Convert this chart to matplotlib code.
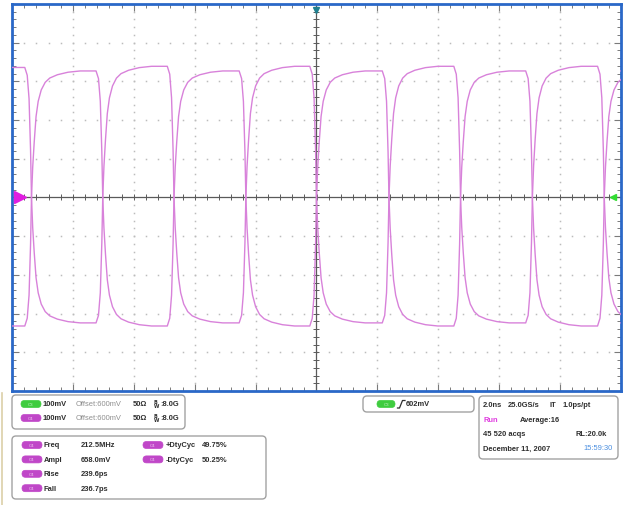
import numpy as np
import matplotlib
matplotlib.use('Agg')
import matplotlib.pyplot as plt
from matplotlib.patches import FancyBboxPatch

# --- values ---
crossing_ns = [-9.36, -7.02, -4.68, -2.32, 0.00, 2.38, 4.73, 7.09, 9.45]
# settled levels (mV) in the 10 stretches before/between/after the crossings
high_mv = [936, 927, 939, 927, 939, 927, 939, 927, 939, 927]
low_mv = [268, 276, 268, 276, 268, 276, 268, 276, 268, 276]
cross_mv = 600
# shape of one edge: time from crossing (ns) and fraction of the swing
edge_dt_ns = [-0.22, -0.14, -0.08, -0.03, 0.0, 0.04, 0.09, 0.15, 0.22, 0.32, 0.45, 0.60, 0.85, 1.20, 1.60]
edge_frac = [0.0, 0.03, 0.12, 0.32, 0.5, 0.62, 0.72, 0.82, 0.88, 0.925, 0.955, 0.972, 0.985, 0.995, 1.0]

chan_rows = [("C3", "100mV", "Offset:600mV", "50\u03a9", ":8.0G"),
             ("C4", "100mV", "Offset:600mV", "50\u03a9", ":8.0G")]
meas_left = [("Freq", "212.5MHz"), ("Ampl", "658.0mV"), ("Rise", "239.6ps"), ("Fall", "236.7ps")]
meas_right = [("+DtyCyc", "49.75%"), ("-DtyCyc", "50.25%")]
trig_level = "602mV"

TRACE = '#d882da'
GREEN = '#3fcc3f'
MAGENTA = '#c047c8'
TXT = '#2e2e2e'


def level(seg, start_high):
    high = (seg % 2 == 0) == start_high
    return high_mv[seg] if high else low_mv[seg]


def build_trace(start_high):
    ts = [-10.0]
    vs = [level(0, start_high)]
    for k, tc in enumerate(crossing_ns):
        old = level(k, start_high)
        new = level(k + 1, start_high)
        for dt, f in zip(edge_dt_ns, edge_frac):
            ts.append(tc + dt)
            if f <= 0.5:
                vs.append(old + f / 0.5 * (cross_mv - old))
            else:
                vs.append(cross_mv + (f - 0.5) / 0.5 * (new - cross_mv))
    ts.append(10.0)
    vs.append(level(len(crossing_ns), start_high))
    return ts, vs


fig = plt.figure(figsize=(6.27, 5.06), dpi=100)
fig.patch.set_facecolor('white')

ax = fig.add_axes([12 / 627, 1 - 392 / 506, 609 / 627, 387 / 506])
ax.set_xlim(-10, 10)
ax.set_ylim(100, 1100)

# dotted graticule
for gx in np.arange(-8, 9, 2):
    if gx != 0:
        ys = np.arange(100, 1101, 20)
        ax.plot(np.full(len(ys), gx), ys, ls='', marker='s', ms=1.1, mew=0,
                color='#bcbcbc', zorder=1)
for gy in np.arange(200, 1001, 100):
    if gy != 600:
        xs = np.arange(-10, 10.01, 0.4)
        ax.plot(xs, np.full(len(xs), gy), ls='', marker='s', ms=1.1, mew=0,
                color='#bcbcbc', zorder=1)

# centre cross with small ticks
ax.axhline(600, color='#5a5a5a', lw=0.9, zorder=2)
ax.axvline(0, color='#5a5a5a', lw=0.9, zorder=2)
xs = np.arange(-10, 10.01, 0.4)
ax.plot(xs, np.full(len(xs), 600), ls='', marker='|', ms=4, mew=0.7, color='#5a5a5a', zorder=2)
ys = np.arange(100, 1101, 20)
ax.plot(np.zeros(len(ys)), ys, ls='', marker='_', ms=4, mew=0.7, color='#5a5a5a', zorder=2)

# the two traces
for start_high in (True, False):
    t, v = build_trace(start_high)
    ax.plot(t, v, color=TRACE, lw=1.0, zorder=3, solid_joinstyle='round')

# edge markers
ax.plot([-9.75], [600], marker='>', ms=8, color='#e01ee0', clip_on=False, zorder=5)
ax.plot([0], [1085], marker='v', ms=5, color='#1f7f8f', clip_on=False, zorder=5)
ax.plot([9.75], [600], marker='<', ms=5, color='#33dd33', clip_on=False, zorder=5)

ax.set_xticks(np.arange(-10, 10.01, 2))
ax.set_yticks(np.arange(100, 1101, 100))
ax.set_xticks(np.arange(-10, 10.01, 0.4), minor=True)
ax.set_yticks(np.arange(100, 1101, 20), minor=True)
ax.tick_params(which='both', direction='in', top=True, right=True,
               labelbottom=False, labelleft=False, color='#7a7a7a')
ax.tick_params(which='major', length=5, width=0.8)
ax.tick_params(which='minor', length=3, width=0.7)
for s in ax.spines.values():
    s.set_color('#2a68c8')
    s.set_linewidth(2.0)

# --- readout panels in pixel coordinates ---
ov = fig.add_axes([0, 0, 1, 1], zorder=-1)
ov.set_xlim(0, 627)
ov.set_ylim(506, 0)
ov.axis('off')

ov.plot([1.5, 1.5], [394, 506], color='#dccfa8', lw=1.2)


def box(x0, y0, x1, y1):
    ov.add_patch(FancyBboxPatch((x0, y0), x1 - x0, y1 - y0,
                                boxstyle='round,pad=0,rounding_size=4',
                                fc='white', ec='#a2a2a2', lw=1.0))


def pill(x, y, name, color, w=20):
    ov.add_patch(FancyBboxPatch((x, y - 3.5), w, 7,
                                boxstyle='round,pad=0,rounding_size=3.5',
                                fc=color, ec=color, lw=0.5))
    ov.text(x + w / 2, y, name, fontsize=3.2, color='white', alpha=0.7,
            ha='center', va='center', family='Liberation Sans')


def label(x, y, s, color=TXT, ha='left', weight='bold'):
    ov.text(x, y, s, fontsize=5.4, color=color, ha=ha, va='center',
            family='Liberation Sans', weight=weight)


box(12, 396, 185, 430)
for i, (ch, volts, off, imp, bw) in enumerate(chan_rows):
    y = 405 + 14 * i
    pill(21, y, ch, GREEN if ch == 'C3' else MAGENTA)
    label(43, y, volts)
    label(76, y, off, color='#8e8e8e', weight='normal')
    label(133, y, imp)
    ov.text(153, y, r'$^{\mathbf{B}}_{\mathbf{W}}$', fontsize=5.0, color=TXT,
            ha='left', va='center')
    label(160, y, bw)

box(12, 437, 266, 500)
for i, (name, val) in enumerate(meas_left):
    y = 446 + 14.4 * i
    pill(22, y, 'C4', MAGENTA)
    label(44, y, name)
    label(81, y, val)
for i, (name, val) in enumerate(meas_right):
    y = 446 + 14.4 * i
    pill(143, y, 'C4', MAGENTA)
    label(166, y, name)
    label(202, y, val)

box(363, 397, 474, 413)
pill(377, 405, 'C3', GREEN, w=18)
ov.plot([397.5, 399.5, 402.5, 405], [409, 409, 401.5, 401.5], color=TXT, lw=0.9)
label(406, 405, trig_level)

box(479, 397, 618, 460)
label(483, 406, "2.0ns")
label(508, 406, "25.0GS/s")
label(550, 406, "IT")
label(563, 406, "1.0ps/pt")
label(483, 421, "Run", color='#e03ce0')
label(520, 421, "Average:16")
label(483, 435, "45 520 acqs")
label(607, 435, "RL:20.0k", ha='right')
label(483, 449, "December 11, 2007")
label(613, 449, "15:59:30", color='#4a8ee0', ha='right', weight='normal')

fig.savefig('out.png', dpi=100)
